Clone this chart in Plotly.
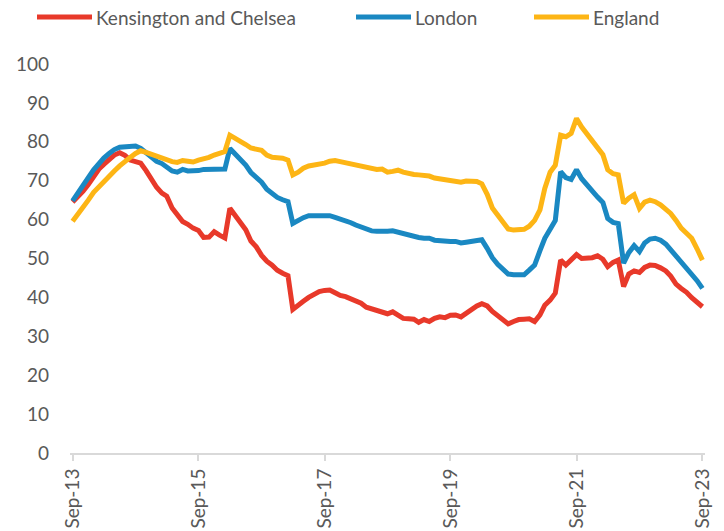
import pandas as pd
import plotly.graph_objects as go

dates = pd.date_range("2013-09-01", periods=121, freq="MS")

kensington = [
    64.5, 65.8, 67.3, 69.0, 71.0, 73.0, 74.2, 75.5, 76.6, 77.2,
    76.5, 75.3, 74.8, 74.5, 72.6, 70.5, 68.3, 66.8, 66.0, 63.0,
    61.0, 59.5, 58.8, 57.8, 57.2, 55.4, 55.5, 56.9, 56.0, 55.3,
    62.9, 61.0, 59.3, 57.4, 54.5, 53.0, 50.8, 49.3, 48.3, 47.0,
    46.2, 45.6, 36.9, 37.8, 39.0, 40.0, 40.8, 41.5, 41.8, 41.9,
    41.2, 40.5, 40.2, 39.6, 38.9, 38.5, 37.5, 37.0, 36.6, 36.0,
    35.8, 36.3, 35.5, 34.6, 34.5, 34.4, 33.6, 34.3, 33.8, 34.6,
    35.0, 34.8, 35.4, 35.5, 35.0, 35.9, 37.0, 37.8, 38.4, 37.8,
    36.4, 35.3, 34.4, 33.2, 33.8, 34.3, 34.4, 34.5, 33.8, 35.5,
    38.0, 39.3, 41.1, 49.6, 48.3, 49.5, 51.0, 50.0, 50.0, 50.2,
    50.7, 49.8, 47.9, 49.0, 49.6, 42.8, 46.0, 46.8, 46.4, 47.7,
    48.3, 48.2, 47.6, 46.8, 45.5, 43.4, 42.3, 41.3, 39.9, 38.8,
    37.6,
]

london = [
    64.8, 66.6, 68.8, 70.8, 72.8, 74.5, 75.8, 77.0, 78.0, 78.6,
    78.8, 78.9, 78.9, 78.3, 77.3, 76.0, 75.0, 74.4, 73.4, 72.5,
    72.2, 72.9, 72.5, 72.4, 72.6, 72.9, 72.9, 73.2, 73.0, 73.0,
    78.3, 77.0, 75.6, 74.0, 72.1, 71.0, 69.6, 67.8, 66.6, 65.7,
    65.1, 64.6, 59.0, 59.9, 60.5, 61.0, 61.0, 61.0, 61.2, 61.0,
    60.6, 60.2, 59.9, 59.2, 58.6, 58.0, 57.5, 57.1, 57.0, 56.9,
    57.0, 57.1, 56.7, 56.3, 56.0, 55.7, 55.4, 55.2, 55.2, 54.7,
    54.5, 54.4, 54.4, 54.4, 54.0, 54.2, 54.4, 54.7, 54.8, 52.6,
    50.2, 48.5, 47.3, 46.0, 45.8, 45.8, 45.8, 47.0, 48.3, 52.0,
    55.2, 57.5, 59.8, 72.3, 70.8, 70.3, 72.8, 70.5, 68.8, 67.3,
    65.8, 64.4, 60.3, 59.3, 59.0, 48.8, 51.5, 53.3, 51.8, 54.0,
    55.0, 55.2, 54.7, 53.7, 52.3, 50.6, 48.9, 47.6, 46.2, 44.3,
    42.3,
]

england = [
    59.6, 61.3, 63.0, 65.0, 67.0, 68.5, 70.0, 71.2, 72.5, 73.8,
    75.0, 76.0, 77.0, 77.7, 77.3, 76.8, 76.2, 75.8, 75.4, 74.9,
    74.7, 75.2, 75.0, 74.8, 75.3, 75.6, 76.0, 76.6, 77.0, 77.5,
    81.7, 81.0, 80.2, 79.3, 78.4, 78.2, 77.8, 76.6, 76.0, 75.9,
    75.8, 75.3, 71.5, 72.2, 73.2, 73.8, 74.0, 74.2, 74.5, 75.0,
    75.2, 74.9, 74.6, 74.3, 73.9, 73.6, 73.4, 73.1, 72.9, 73.0,
    72.2, 72.4, 72.7, 72.2, 71.8, 71.6, 71.5, 71.4, 71.2, 70.7,
    70.5, 70.3, 70.2, 69.8, 69.6, 69.9, 70.0, 69.8, 69.2, 66.5,
    63.0, 61.0, 59.5, 57.6, 57.3, 57.4, 57.5, 58.3, 59.8, 62.5,
    68.0, 72.2, 74.0, 81.7, 81.3, 82.2, 86.0, 83.8, 82.0, 80.4,
    78.8, 76.7, 72.8, 71.8, 71.5, 64.2, 65.5, 66.4, 62.9, 64.5,
    65.0, 64.6, 63.8, 62.8, 61.6, 59.8, 57.8, 56.5, 55.2, 52.5,
    49.6,
]

series_names = ["Kensington and Chelsea", "London", "England"]
series_colors = ["#e8392a", "#1a88c2", "#fdb515"]

tick_dates = ["2013-09-01", "2015-09-01", "2017-09-01", "2019-09-01", "2021-09-01", "2023-09-01"]
tick_labels = ["Sep-13", "Sep-15", "Sep-17", "Sep-19", "Sep-21", "Sep-23"]

W, H = 724, 531
ML, MR, MT, MB = 70, 19, 64, 78
PW, PH = W - ML - MR, H - MT - MB

FONT = "Lato"
GREY = "#595959"
FS = 19

fig = go.Figure()
for name, vals, col in zip(series_names, [kensington, london, england], series_colors):
    fig.add_trace(go.Scatter(
        x=dates, y=vals, name=name, mode="lines",
        line=dict(color=col, width=5),
        showlegend=False,
    ))

# manual legend (screen pixel positions converted to paper coords)
def px(x):
    return (x - ML) / PW

def py(y):
    return 1 + (MT - y) / PH

legend_line_x = [37, 356, 534]
legend_y = 17
for name, col, lx in zip(series_names, series_colors, legend_line_x):
    fig.add_shape(type="line", xref="paper", yref="paper",
                  x0=px(lx), x1=px(lx + 55), y0=py(legend_y), y1=py(legend_y),
                  line=dict(color=col, width=5))
    fig.add_annotation(xref="paper", yref="paper", x=px(lx + 57), y=py(legend_y),
                       text=name, showarrow=False, xanchor="left", yanchor="middle",
                       font=dict(family=FONT, size=FS, color=GREY))

fig.update_layout(
    width=W, height=H,
    margin=dict(l=ML, r=MR, t=MT, b=MB, autoexpand=False),
    paper_bgcolor="white", plot_bgcolor="white",
    showlegend=False,
    hovermode=False,
    font=dict(family=FONT, size=FS, color=GREY),
)
fig.update_xaxes(
    type="date",
    range=["2013-08-17", "2023-09-16"],
    tickvals=tick_dates, ticktext=tick_labels,
    tickangle=-90,
    showgrid=False, zeroline=False,
    showline=True, linecolor="#d9d9d9", linewidth=2,
    ticks="outside", ticklen=6, tickcolor="#d9d9d9", tickwidth=2,
    tickfont=dict(family=FONT, size=FS, color=GREY),
    automargin=False,
)
fig.update_yaxes(
    range=[0, 100], dtick=10, tick0=0,
    showgrid=False, zeroline=False, showline=False,
    ticks="", ticklabelstandoff=20,
    tickfont=dict(family=FONT, size=FS, color=GREY),
    automargin=False,
)

fig.write_html(
    "out.html",
    config={"displayModeBar": False, "staticPlot": True},
    post_script="document.body.style.margin='0';document.body.style.padding='0';",
)
